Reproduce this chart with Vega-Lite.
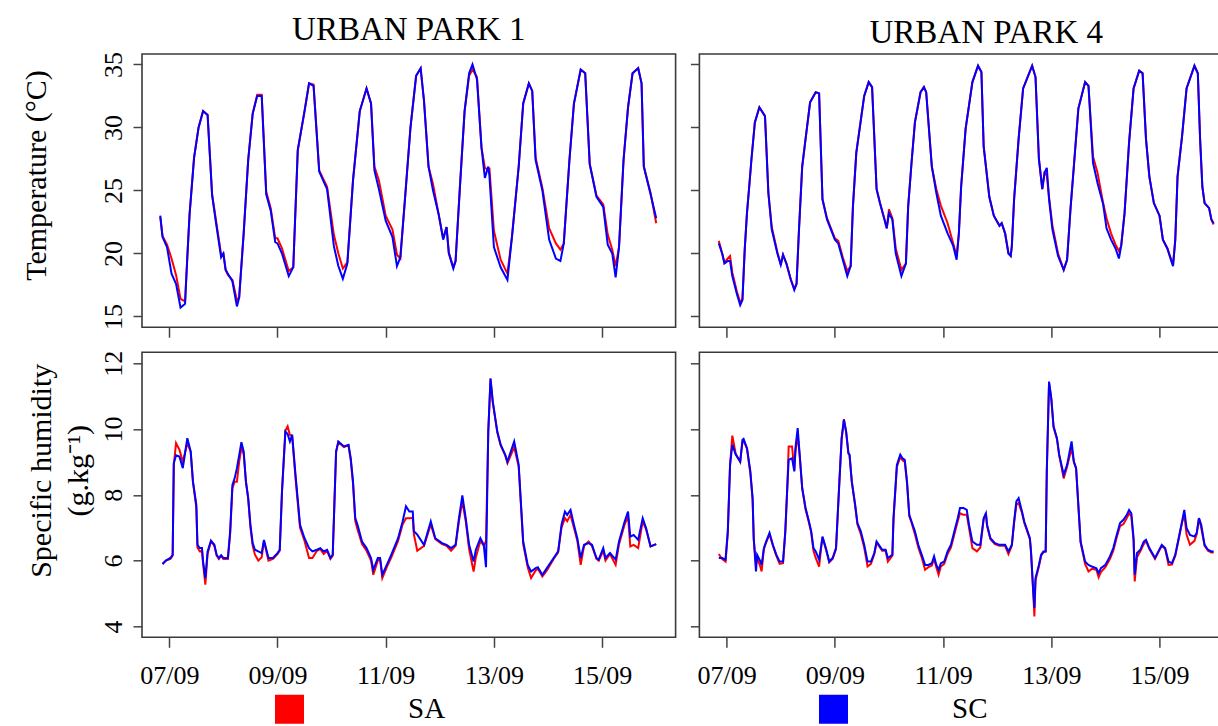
{
  "$schema": "https://vega.github.io/schema/vega-lite/v6.json",
  "background": "white",
  "padding": {"left": 20, "top": 13, "right": 0, "bottom": 0},
  "config": {
    "font": "Liberation Serif",
    "view": {"stroke": "#3a3a3a", "strokeWidth": 1.6},
    "axis": {"grid": false, "domain": false, "tickColor": "#444444", "tickWidth": 1.5, "labelFont": "Liberation Serif", "labelFontSize": 26, "labelColor": "#000000", "titleFont": "Liberation Serif", "titleFontSize": 30, "titleFontWeight": "normal", "titleColor": "#000000"},
    "axisX": {"tickSize": 10, "labelPadding": 15, "labelBaseline": "top"},
    "axisY": {"tickSize": 9, "labelAngle": -90, "labelAlign": "center", "labelBaseline": "alphabetic", "labelPadding": 12},
    "title": {"font": "Liberation Serif", "fontSize": 33, "fontWeight": "normal", "color": "#000000", "baseline": "alphabetic", "offset": 4}
  },
  "datasets": {
    "t1": [
      {"t":"06/09 20:00","SA":22.9,"SC":23.0},{"t":"06/09 21:00","SA":21.4,"SC":21.3},{"t":"06/09 23:00","SA":20.7,"SC":20.5},
      {"t":"07/09 01:00","SA":19.6,"SC":18.4},{"t":"07/09 03:00","SA":18.3,"SC":17.6},{"t":"07/09 05:00","SA":16.4,"SC":15.7},
      {"t":"07/09 07:00","SA":16.2,"SC":16.0},{"t":"07/09 08:00","SA":19.7,"SC":19.7},{"t":"07/09 09:00","SA":23.1,"SC":23.1},
      {"t":"07/09 11:00","SA":27.6,"SC":27.6},{"t":"07/09 13:00","SA":30.0,"SC":30.0},{"t":"07/09 15:00","SA":31.3,"SC":31.3},
      {"t":"07/09 17:00","SA":31.0,"SC":31.0},{"t":"07/09 19:00","SA":24.7,"SC":24.6},{"t":"07/09 21:00","SA":22.3,"SC":22.1},
      {"t":"07/09 23:00","SA":19.9,"SC":19.7},{"t":"08/09 00:00","SA":20.0,"SC":20.0},{"t":"08/09 01:00","SA":18.7,"SC":18.7},
      {"t":"08/09 02:00","SA":18.3,"SC":18.4},{"t":"08/09 04:00","SA":17.9,"SC":17.8},{"t":"08/09 06:00","SA":16.3,"SC":15.8},
      {"t":"08/09 07:00","SA":16.5,"SC":16.5},{"t":"08/09 09:00","SA":21.6,"SC":21.6},{"t":"08/09 11:00","SA":27.4,"SC":27.4},
      {"t":"08/09 13:00","SA":31.1,"SC":31.1},{"t":"08/09 15:00","SA":32.6,"SC":32.5},{"t":"08/09 17:00","SA":32.6,"SC":32.5},
      {"t":"08/09 19:00","SA":24.9,"SC":24.7},{"t":"08/09 21:00","SA":23.6,"SC":23.4},{"t":"08/09 23:00","SA":21.2,"SC":20.9},
      {"t":"09/09 00:00","SA":21.2,"SC":20.8},{"t":"09/09 02:00","SA":20.4,"SC":20.0},{"t":"09/09 05:00","SA":18.6,"SC":18.2},
      {"t":"09/09 07:00","SA":18.9,"SC":18.9},{"t":"09/09 09:00","SA":28.2,"SC":28.2},{"t":"09/09 12:00","SA":31.3,"SC":31.3},
      {"t":"09/09 14:00","SA":33.5,"SC":33.5},{"t":"09/09 16:00","SA":33.4,"SC":33.3},{"t":"09/09 18:30","SA":26.6,"SC":26.5},
      {"t":"09/09 22:00","SA":25.3,"SC":25.1},{"t":"10/09 01:00","SA":21.5,"SC":20.6},{"t":"10/09 03:00","SA":20.0,"SC":19.0},
      {"t":"10/09 05:00","SA":18.8,"SC":18.0},{"t":"10/09 07:00","SA":19.3,"SC":19.2},{"t":"10/09 09:30","SA":25.8,"SC":25.8},
      {"t":"10/09 12:30","SA":31.3,"SC":31.3},{"t":"10/09 15:30","SA":33.1,"SC":33.1},{"t":"10/09 17:30","SA":31.9,"SC":31.9},
      {"t":"10/09 19:00","SA":26.9,"SC":26.6},{"t":"10/09 21:00","SA":25.8,"SC":25.1},{"t":"11/09 00:00","SA":23.0,"SC":22.6},
      {"t":"11/09 03:00","SA":21.9,"SC":21.3},{"t":"11/09 05:00","SA":19.9,"SC":19.0},{"t":"11/09 06:30","SA":19.6,"SC":19.7},
      {"t":"11/09 08:30","SA":24.2,"SC":24.2},{"t":"11/09 11:00","SA":30.0,"SC":30.0},{"t":"11/09 13:30","SA":34.1,"SC":34.1},
      {"t":"11/09 15:30","SA":34.7,"SC":34.7},{"t":"11/09 17:00","SA":32.1,"SC":32.1},{"t":"11/09 19:00","SA":26.9,"SC":26.9},
      {"t":"11/09 21:00","SA":25.5,"SC":25.0},{"t":"11/09 23:30","SA":23.1,"SC":23.1},{"t":"12/09 01:30","SA":21.2,"SC":21.1},
      {"t":"12/09 03:00","SA":22.1,"SC":22.1},{"t":"12/09 04:00","SA":20.1,"SC":20.0},{"t":"12/09 06:00","SA":18.9,"SC":18.8},
      {"t":"12/09 07:00","SA":19.4,"SC":19.4},{"t":"12/09 09:00","SA":25.5,"SC":25.5},{"t":"12/09 11:00","SA":31.3,"SC":31.3},
      {"t":"12/09 13:00","SA":34.1,"SC":34.3},{"t":"12/09 14:30","SA":34.6,"SC":35.0},{"t":"12/09 16:30","SA":34.0,"SC":33.8},
      {"t":"12/09 18:30","SA":28.4,"SC":28.4},{"t":"12/09 20:00","SA":26.8,"SC":26.0},{"t":"12/09 21:30","SA":26.6,"SC":26.9},
      {"t":"12/09 22:00","SA":26.8,"SC":26.2},{"t":"13/09 00:00","SA":21.8,"SC":20.5},{"t":"13/09 03:00","SA":19.5,"SC":18.9},
      {"t":"13/09 06:00","SA":18.4,"SC":17.9},{"t":"13/09 08:00","SA":21.3,"SC":21.3},{"t":"13/09 11:00","SA":26.9,"SC":26.9},
      {"t":"13/09 13:00","SA":31.9,"SC":31.9},{"t":"13/09 15:30","SA":33.5,"SC":33.5},{"t":"13/09 17:00","SA":32.9,"SC":32.9},
      {"t":"13/09 18:30","SA":27.6,"SC":27.4},{"t":"13/09 21:30","SA":25.2,"SC":25.0},{"t":"14/09 00:30","SA":22.0,"SC":21.1},
      {"t":"14/09 03:30","SA":20.8,"SC":19.6},{"t":"14/09 05:30","SA":20.3,"SC":19.4},{"t":"14/09 07:00","SA":20.8,"SC":20.8},
      {"t":"14/09 09:30","SA":27.4,"SC":27.4},{"t":"14/09 11:30","SA":31.9,"SC":31.9},{"t":"14/09 14:30","SA":34.6,"SC":34.6},
      {"t":"14/09 16:30","SA":34.3,"SC":34.3},{"t":"14/09 18:30","SA":27.1,"SC":27.1},{"t":"14/09 21:30","SA":24.6,"SC":24.5},
      {"t":"15/09 00:30","SA":23.9,"SC":23.7},{"t":"15/09 02:30","SA":21.5,"SC":20.7},{"t":"15/09 04:30","SA":20.3,"SC":20.0},
      {"t":"15/09 06:00","SA":19.0,"SC":18.1},{"t":"15/09 07:30","SA":20.5,"SC":20.5},{"t":"15/09 09:30","SA":27.4,"SC":27.4},
      {"t":"15/09 11:30","SA":31.6,"SC":31.6},{"t":"15/09 13:30","SA":34.3,"SC":34.3},{"t":"15/09 16:00","SA":34.7,"SC":34.7},
      {"t":"15/09 17:30","SA":33.5,"SC":33.5},{"t":"15/09 18:30","SA":26.9,"SC":26.9},{"t":"15/09 21:30","SA":24.8,"SC":24.7},
      {"t":"16/09 00:00","SA":22.4,"SC":22.8}
    ],
    "t4": [
      {"t":"06/09 20:30","SA":21.0,"SC":20.8},{"t":"06/09 22:00","SA":20.0,"SC":20.0},{"t":"06/09 23:00","SA":19.3,"SC":19.2},
      {"t":"07/09 00:30","SA":19.6,"SC":19.4},{"t":"07/09 01:30","SA":19.8,"SC":19.4},{"t":"07/09 02:30","SA":18.5,"SC":18.2},
      {"t":"07/09 04:30","SA":17.0,"SC":16.8},{"t":"07/09 06:00","SA":16.1,"SC":15.9},{"t":"07/09 07:00","SA":16.4,"SC":16.3},
      {"t":"07/09 08:00","SA":20.3,"SC":20.3},{"t":"07/09 09:00","SA":23.2,"SC":23.2},{"t":"07/09 10:00","SA":25.3,"SC":25.3},
      {"t":"07/09 11:00","SA":27.5,"SC":27.5},{"t":"07/09 12:30","SA":30.4,"SC":30.4},{"t":"07/09 14:30","SA":31.6,"SC":31.6},
      {"t":"07/09 17:00","SA":30.9,"SC":30.9},{"t":"07/09 18:30","SA":24.8,"SC":24.8},{"t":"07/09 20:00","SA":22.1,"SC":21.9},
      {"t":"07/09 22:30","SA":20.1,"SC":20.0},{"t":"08/09 00:00","SA":19.1,"SC":19.1},{"t":"08/09 01:00","SA":19.9,"SC":19.9},
      {"t":"08/09 02:30","SA":19.2,"SC":19.2},{"t":"08/09 04:30","SA":17.9,"SC":17.9},{"t":"08/09 06:00","SA":17.2,"SC":17.1},
      {"t":"08/09 07:00","SA":17.6,"SC":17.6},{"t":"08/09 08:00","SA":21.6,"SC":21.6},{"t":"08/09 09:30","SA":26.9,"SC":26.9},
      {"t":"08/09 11:00","SA":29.1,"SC":29.1},{"t":"08/09 13:00","SA":32.0,"SC":32.0},{"t":"08/09 15:30","SA":32.8,"SC":32.8},
      {"t":"08/09 17:00","SA":32.7,"SC":32.7},{"t":"08/09 18:30","SA":24.3,"SC":24.3},{"t":"08/09 20:30","SA":22.8,"SC":22.7},
      {"t":"09/09 00:00","SA":21.2,"SC":21.1},{"t":"09/09 01:30","SA":21.0,"SC":20.8},{"t":"09/09 03:30","SA":19.7,"SC":19.5},
      {"t":"09/09 05:30","SA":18.6,"SC":18.2},{"t":"09/09 07:00","SA":19.0,"SC":19.0},{"t":"09/09 08:00","SA":23.7,"SC":23.7},
      {"t":"09/09 09:30","SA":28.0,"SC":28.0},{"t":"09/09 13:00","SA":32.5,"SC":32.5},{"t":"09/09 15:00","SA":33.6,"SC":33.6},
      {"t":"09/09 16:30","SA":33.2,"SC":33.2},{"t":"09/09 18:30","SA":25.1,"SC":25.1},{"t":"09/09 20:00","SA":24.0,"SC":24.0},
      {"t":"09/09 22:00","SA":22.7,"SC":22.7},{"t":"09/09 23:00","SA":22.0,"SC":22.0},{"t":"10/09 00:00","SA":23.5,"SC":23.2},
      {"t":"10/09 01:30","SA":22.8,"SC":22.7},{"t":"10/09 03:00","SA":20.4,"SC":20.0},{"t":"10/09 05:30","SA":18.7,"SC":18.2},
      {"t":"10/09 07:30","SA":19.2,"SC":19.2},{"t":"10/09 08:30","SA":23.7,"SC":23.7},{"t":"10/09 10:00","SA":27.2,"SC":27.2},
      {"t":"10/09 11:30","SA":30.4,"SC":30.4},{"t":"10/09 14:00","SA":32.8,"SC":32.8},{"t":"10/09 15:30","SA":33.2,"SC":33.2},
      {"t":"10/09 16:30","SA":32.8,"SC":32.8},{"t":"10/09 19:00","SA":26.9,"SC":26.9},{"t":"10/09 21:00","SA":25.1,"SC":24.8},
      {"t":"10/09 23:00","SA":23.8,"SC":23.0},{"t":"11/09 02:00","SA":22.4,"SC":21.6},{"t":"11/09 04:30","SA":20.8,"SC":20.6},
      {"t":"11/09 06:00","SA":19.8,"SC":19.5},{"t":"11/09 07:00","SA":21.6,"SC":21.6},{"t":"11/09 08:00","SA":25.3,"SC":25.3},
      {"t":"11/09 10:00","SA":29.9,"SC":29.9},{"t":"11/09 13:00","SA":33.6,"SC":33.6},{"t":"11/09 15:30","SA":34.9,"SC":34.9},
      {"t":"11/09 17:00","SA":34.4,"SC":34.4},{"t":"11/09 18:00","SA":28.5,"SC":28.5},{"t":"11/09 19:30","SA":26.1,"SC":26.1},
      {"t":"11/09 20:30","SA":24.5,"SC":24.5},{"t":"11/09 22:30","SA":23.0,"SC":23.0},{"t":"12/09 01:00","SA":22.2,"SC":22.2},
      {"t":"12/09 02:00","SA":22.4,"SC":22.4},{"t":"12/09 03:30","SA":21.6,"SC":21.6},{"t":"12/09 05:00","SA":20.0,"SC":20.0},
      {"t":"12/09 06:00","SA":19.8,"SC":19.8},{"t":"12/09 06:30","SA":20.6,"SC":20.6},{"t":"12/09 07:30","SA":24.3,"SC":24.3},
      {"t":"12/09 09:30","SA":29.1,"SC":29.1},{"t":"12/09 11:30","SA":33.1,"SC":33.1},{"t":"12/09 13:30","SA":34.0,"SC":34.0},
      {"t":"12/09 15:30","SA":34.9,"SC":34.9},{"t":"12/09 17:00","SA":34.0,"SC":34.0},{"t":"12/09 18:30","SA":27.5,"SC":27.5},
      {"t":"12/09 20:00","SA":25.1,"SC":25.1},{"t":"12/09 21:00","SA":26.4,"SC":26.4},{"t":"12/09 22:00","SA":26.2,"SC":26.8},
      {"t":"12/09 23:00","SA":24.5,"SC":24.3},{"t":"13/09 00:30","SA":22.2,"SC":21.9},{"t":"13/09 03:00","SA":20.0,"SC":19.8},
      {"t":"13/09 05:30","SA":18.7,"SC":18.7},{"t":"13/09 07:00","SA":19.5,"SC":19.5},{"t":"13/09 08:30","SA":23.5,"SC":23.5},
      {"t":"13/09 10:00","SA":26.9,"SC":26.9},{"t":"13/09 12:00","SA":31.5,"SC":31.5},{"t":"13/09 15:00","SA":33.6,"SC":33.6},
      {"t":"13/09 16:30","SA":33.3,"SC":33.3},{"t":"13/09 18:30","SA":27.7,"SC":27.2},{"t":"13/09 20:30","SA":26.4,"SC":25.6},
      {"t":"13/09 23:00","SA":24.0,"SC":23.9},{"t":"14/09 00:30","SA":22.8,"SC":22.0},{"t":"14/09 02:30","SA":21.6,"SC":21.1},
      {"t":"14/09 04:30","SA":20.7,"SC":20.4},{"t":"14/09 06:00","SA":20.2,"SC":19.6},{"t":"14/09 07:00","SA":20.6,"SC":20.6},
      {"t":"14/09 08:30","SA":23.2,"SC":23.2},{"t":"14/09 10:30","SA":28.8,"SC":28.8},{"t":"14/09 12:30","SA":33.1,"SC":33.1},
      {"t":"14/09 15:00","SA":34.5,"SC":34.5},{"t":"14/09 16:30","SA":34.3,"SC":34.3},{"t":"14/09 18:00","SA":29.1,"SC":29.1},
      {"t":"14/09 19:30","SA":26.1,"SC":26.1},{"t":"14/09 21:30","SA":24.0,"SC":24.0},{"t":"15/09 00:00","SA":23.0,"SC":23.0},
      {"t":"15/09 01:30","SA":21.1,"SC":21.1},{"t":"15/09 03:30","SA":20.4,"SC":20.4},{"t":"15/09 04:30","SA":19.9,"SC":19.8},
      {"t":"15/09 06:00","SA":19.1,"SC":19.0},{"t":"15/09 07:00","SA":21.1,"SC":21.1},{"t":"15/09 08:00","SA":26.1,"SC":26.1},
      {"t":"15/09 10:00","SA":29.3,"SC":29.3},{"t":"15/09 12:00","SA":33.1,"SC":33.1},{"t":"15/09 15:30","SA":34.9,"SC":34.9},
      {"t":"15/09 17:00","SA":34.3,"SC":34.3},{"t":"15/09 18:00","SA":29.1,"SC":29.1},{"t":"15/09 19:00","SA":25.3,"SC":25.3},
      {"t":"15/09 20:00","SA":24.0,"SC":24.0},{"t":"15/09 22:00","SA":23.6,"SC":23.6},{"t":"15/09 23:00","SA":22.7,"SC":22.7},
      {"t":"16/09 00:00","SA":22.3,"SC":22.4}
    ],
    "h1": [
      {"t":"06/09 21:00","SA":5.9,"SC":5.9},{"t":"06/09 22:30","SA":6.0,"SC":6.0},{"t":"07/09 00:30","SA":6.05,"SC":6.08},
      {"t":"07/09 01:30","SA":6.15,"SC":6.18},{"t":"07/09 02:00","SA":8.9,"SC":8.96},{"t":"07/09 03:00","SA":9.57,"SC":9.2},
      {"t":"07/09 04:30","SA":9.37,"SC":9.16},{"t":"07/09 06:00","SA":9.0,"SC":8.81},{"t":"07/09 08:00","SA":9.57,"SC":9.72},
      {"t":"07/09 09:30","SA":9.3,"SC":9.32},{"t":"07/09 10:30","SA":8.4,"SC":8.4},{"t":"07/09 12:00","SA":7.6,"SC":7.7},
      {"t":"07/09 12:30","SA":6.4,"SC":6.48},{"t":"07/09 13:30","SA":6.28,"SC":6.38},{"t":"07/09 14:30","SA":6.3,"SC":6.38},
      {"t":"07/09 15:00","SA":5.9,"SC":5.97},{"t":"07/09 16:00","SA":5.27,"SC":5.47},{"t":"07/09 17:00","SA":6.2,"SC":6.28},
      {"t":"07/09 18:30","SA":6.6,"SC":6.6},{"t":"07/09 20:00","SA":6.45,"SC":6.48},{"t":"07/09 21:00","SA":6.15,"SC":6.18},
      {"t":"07/09 22:00","SA":6.05,"SC":6.08},{"t":"07/09 23:00","SA":6.15,"SC":6.16},{"t":"08/09 00:00","SA":6.05,"SC":6.08},
      {"t":"08/09 02:00","SA":6.05,"SC":6.08},{"t":"08/09 03:00","SA":6.8,"SC":6.89},{"t":"08/09 04:00","SA":8.2,"SC":8.3},
      {"t":"08/09 05:00","SA":8.4,"SC":8.5},{"t":"08/09 06:00","SA":8.4,"SC":8.81},{"t":"08/09 07:00","SA":9.0,"SC":9.2},
      {"t":"08/09 08:00","SA":9.42,"SC":9.6},{"t":"08/09 09:00","SA":9.25,"SC":9.32},{"t":"08/09 10:00","SA":8.4,"SC":8.4},
      {"t":"08/09 11:00","SA":7.9,"SC":7.9},{"t":"08/09 12:00","SA":7.0,"SC":7.09},{"t":"08/09 13:00","SA":6.45,"SC":6.53},
      {"t":"08/09 14:00","SA":6.18,"SC":6.33},{"t":"08/09 15:30","SA":6.0,"SC":6.28},{"t":"08/09 17:00","SA":6.1,"SC":6.23},
      {"t":"08/09 18:00","SA":6.6,"SC":6.63},{"t":"08/09 20:00","SA":6.0,"SC":6.08},{"t":"08/09 22:00","SA":6.05,"SC":6.08},
      {"t":"09/09 00:00","SA":6.2,"SC":6.23},{"t":"09/09 01:00","SA":6.3,"SC":6.33},{"t":"09/09 02:00","SA":8.1,"SC":8.1},
      {"t":"09/09 03:30","SA":9.95,"SC":9.92},{"t":"09/09 04:30","SA":10.08,"SC":9.85},{"t":"09/09 05:30","SA":9.82,"SC":9.62},
      {"t":"09/09 06:30","SA":9.8,"SC":9.82},{"t":"09/09 08:00","SA":8.5,"SC":8.61},{"t":"09/09 10:00","SA":7.0,"SC":7.09},
      {"t":"09/09 12:00","SA":6.6,"SC":6.68},{"t":"09/09 14:00","SA":6.08,"SC":6.38},{"t":"09/09 15:30","SA":6.08,"SC":6.28},
      {"t":"09/09 17:30","SA":6.3,"SC":6.33},{"t":"09/09 19:00","SA":6.35,"SC":6.38},{"t":"09/09 20:30","SA":6.2,"SC":6.28},
      {"t":"09/09 22:00","SA":6.3,"SC":6.33},{"t":"09/09 23:30","SA":6.05,"SC":6.08},{"t":"10/09 00:30","SA":6.15,"SC":6.18},
      {"t":"10/09 02:00","SA":9.3,"SC":9.32},{"t":"10/09 03:00","SA":9.6,"SC":9.62},{"t":"10/09 05:30","SA":9.45,"SC":9.47},
      {"t":"10/09 07:30","SA":9.5,"SC":9.52},{"t":"10/09 08:30","SA":9.05,"SC":9.11},{"t":"10/09 09:30","SA":8.35,"SC":8.4},
      {"t":"10/09 10:30","SA":7.2,"SC":7.29},{"t":"10/09 11:30","SA":6.95,"SC":7.09},{"t":"10/09 13:30","SA":6.5,"SC":6.58},
      {"t":"10/09 15:30","SA":6.3,"SC":6.38},{"t":"10/09 17:30","SA":6.0,"SC":6.08},{"t":"10/09 18:30","SA":5.57,"SC":5.72},
      {"t":"10/09 20:30","SA":6.0,"SC":6.08},{"t":"10/09 21:30","SA":6.05,"SC":6.08},{"t":"10/09 22:30","SA":5.47,"SC":5.57},
      {"t":"11/09 00:30","SA":5.8,"SC":5.87},{"t":"11/09 02:30","SA":6.1,"SC":6.18},{"t":"11/09 05:30","SA":6.6,"SC":6.68},
      {"t":"11/09 07:30","SA":7.1,"SC":7.19},{"t":"11/09 09:00","SA":7.29,"SC":7.65},{"t":"11/09 10:30","SA":7.29,"SC":7.49},
      {"t":"11/09 12:00","SA":7.3,"SC":7.49},{"t":"11/09 12:30","SA":6.8,"SC":6.89},{"t":"11/09 14:00","SA":6.3,"SC":6.79},
      {"t":"11/09 17:00","SA":6.45,"SC":6.48},{"t":"11/09 20:00","SA":7.1,"SC":7.19},{"t":"11/09 22:00","SA":6.65,"SC":6.68},
      {"t":"12/09 01:00","SA":6.5,"SC":6.53},{"t":"12/09 03:00","SA":6.45,"SC":6.48},{"t":"12/09 05:00","SA":6.3,"SC":6.38},
      {"t":"12/09 07:00","SA":6.45,"SC":6.48},{"t":"12/09 08:30","SA":7.2,"SC":7.29},{"t":"12/09 10:00","SA":7.8,"SC":7.98},
      {"t":"12/09 11:30","SA":7.2,"SC":7.29},{"t":"12/09 13:00","SA":6.35,"SC":6.48},{"t":"12/09 15:00","SA":5.67,"SC":5.97},
      {"t":"12/09 16:00","SA":6.1,"SC":6.33},{"t":"12/09 18:00","SA":6.6,"SC":6.68},{"t":"12/09 19:30","SA":6.45,"SC":6.48},
      {"t":"12/09 20:30","SA":6.6,"SC":5.8},{"t":"12/09 21:30","SA":9.9,"SC":9.92},{"t":"12/09 22:30","SA":11.5,"SC":11.54},
      {"t":"12/09 23:30","SA":10.8,"SC":10.84},{"t":"13/09 01:30","SA":9.9,"SC":9.92},{"t":"13/09 03:00","SA":9.5,"SC":9.52},
      {"t":"13/09 05:00","SA":9.2,"SC":9.22},{"t":"13/09 06:00","SA":8.96,"SC":9.01},{"t":"13/09 09:00","SA":9.45,"SC":9.62},
      {"t":"13/09 11:00","SA":8.85,"SC":8.91},{"t":"13/09 13:00","SA":6.5,"SC":6.58},{"t":"13/09 15:00","SA":5.8,"SC":5.87},
      {"t":"13/09 16:30","SA":5.47,"SC":5.67},{"t":"13/09 18:30","SA":5.7,"SC":5.77},{"t":"13/09 19:30","SA":5.75,"SC":5.8},
      {"t":"13/09 21:30","SA":5.52,"SC":5.57},{"t":"13/09 23:30","SA":5.7,"SC":5.77},{"t":"14/09 02:30","SA":6.05,"SC":6.08},
      {"t":"14/09 04:30","SA":6.25,"SC":6.28},{"t":"14/09 06:00","SA":7.0,"SC":7.09},{"t":"14/09 07:30","SA":7.29,"SC":7.49},
      {"t":"14/09 08:30","SA":7.2,"SC":7.39},{"t":"14/09 10:00","SA":7.39,"SC":7.54},{"t":"14/09 11:30","SA":7.0,"SC":7.09},
      {"t":"14/09 13:00","SA":6.6,"SC":6.68},{"t":"14/09 14:30","SA":5.87,"SC":6.08},{"t":"14/09 16:00","SA":6.45,"SC":6.48},
      {"t":"14/09 18:00","SA":6.58,"SC":6.53},{"t":"14/09 19:30","SA":6.45,"SC":6.48},{"t":"14/09 21:30","SA":6.05,"SC":6.08},
      {"t":"14/09 22:30","SA":6.0,"SC":6.03},{"t":"15/09 00:30","SA":6.3,"SC":6.38},{"t":"15/09 01:30","SA":6.0,"SC":6.08},
      {"t":"15/09 03:30","SA":6.2,"SC":6.23},{"t":"15/09 06:00","SA":5.87,"SC":6.03},{"t":"15/09 07:30","SA":6.5,"SC":6.58},
      {"t":"15/09 10:00","SA":7.1,"SC":7.19},{"t":"15/09 11:30","SA":7.34,"SC":7.49},{"t":"15/09 12:30","SA":6.43,"SC":6.73},
      {"t":"15/09 14:00","SA":6.48,"SC":6.78},{"t":"15/09 16:00","SA":6.38,"SC":6.63},{"t":"15/09 18:00","SA":7.19,"SC":7.29},
      {"t":"15/09 19:30","SA":6.95,"SC":6.99},{"t":"15/09 21:30","SA":6.43,"SC":6.43},{"t":"16/09 00:00","SA":6.5,"SC":6.5}
    ],
    "h4": [
      {"t":"06/09 20:30","SA":6.2,"SC":6.08},{"t":"06/09 22:00","SA":6.05,"SC":6.08},{"t":"06/09 23:30","SA":5.97,"SC":6.03},
      {"t":"07/09 00:30","SA":6.85,"SC":6.89},{"t":"07/09 01:30","SA":8.9,"SC":8.91},{"t":"07/09 02:30","SA":9.8,"SC":9.52},
      {"t":"07/09 04:00","SA":9.25,"SC":9.22},{"t":"07/09 06:00","SA":9.0,"SC":9.01},{"t":"07/09 07:00","SA":9.6,"SC":9.67},
      {"t":"07/09 07:30","SA":9.65,"SC":9.7},{"t":"07/09 09:00","SA":9.4,"SC":9.42},{"t":"07/09 10:30","SA":8.65,"SC":8.71},
      {"t":"07/09 11:30","SA":7.85,"SC":7.9},{"t":"07/09 12:00","SA":6.65,"SC":6.68},{"t":"07/09 13:00","SA":5.87,"SC":5.67},
      {"t":"07/09 13:30","SA":6.1,"SC":6.18},{"t":"07/09 15:00","SA":5.8,"SC":5.97},{"t":"07/09 15:30","SA":5.67,"SC":5.87},
      {"t":"07/09 16:30","SA":6.35,"SC":6.38},{"t":"07/09 17:30","SA":6.55,"SC":6.58},{"t":"07/09 19:00","SA":6.8,"SC":6.84},
      {"t":"07/09 20:30","SA":6.45,"SC":6.48},{"t":"07/09 22:00","SA":6.15,"SC":6.18},{"t":"07/09 23:30","SA":5.9,"SC":5.97},
      {"t":"08/09 01:00","SA":5.92,"SC":5.97},{"t":"08/09 02:00","SA":6.85,"SC":6.89},{"t":"08/09 03:00","SA":8.4,"SC":8.4},
      {"t":"08/09 03:30","SA":9.47,"SC":9.06},{"t":"08/09 05:00","SA":9.47,"SC":9.11},{"t":"08/09 06:00","SA":8.75,"SC":8.71},
      {"t":"08/09 06:30","SA":9.3,"SC":9.42},{"t":"08/09 07:30","SA":9.82,"SC":10.03},{"t":"08/09 08:30","SA":9.1,"SC":9.11},
      {"t":"08/09 09:30","SA":8.2,"SC":8.2},{"t":"08/09 11:00","SA":7.55,"SC":7.6},{"t":"08/09 12:30","SA":7.15,"SC":7.19},
      {"t":"08/09 13:30","SA":6.85,"SC":6.89},{"t":"08/09 14:30","SA":6.3,"SC":6.38},{"t":"08/09 15:30","SA":6.08,"SC":6.28},
      {"t":"08/09 17:00","SA":5.82,"SC":6.03},{"t":"08/09 18:00","SA":6.45,"SC":6.48},{"t":"08/09 18:30","SA":6.7,"SC":6.73},
      {"t":"08/09 20:00","SA":6.35,"SC":6.38},{"t":"08/09 21:30","SA":5.95,"SC":5.97},{"t":"08/09 23:00","SA":6.05,"SC":6.08},
      {"t":"09/09 00:30","SA":6.35,"SC":6.38},{"t":"09/09 02:00","SA":8.4,"SC":8.4},{"t":"09/09 03:00","SA":9.7,"SC":9.72},
      {"t":"09/09 04:00","SA":10.3,"SC":10.28},{"t":"09/09 05:00","SA":9.9,"SC":9.92},{"t":"09/09 06:00","SA":9.25,"SC":9.27},
      {"t":"09/09 06:30","SA":9.2,"SC":9.22},{"t":"09/09 07:30","SA":8.4,"SC":8.4},{"t":"09/09 09:00","SA":7.65,"SC":7.7},
      {"t":"09/09 10:00","SA":7.1,"SC":7.14},{"t":"09/09 11:30","SA":6.8,"SC":6.89},{"t":"09/09 13:00","SA":6.4,"SC":6.48},
      {"t":"09/09 14:30","SA":5.82,"SC":5.97},{"t":"09/09 16:00","SA":5.9,"SC":5.97},{"t":"09/09 17:30","SA":6.2,"SC":6.23},
      {"t":"09/09 18:30","SA":6.55,"SC":6.58},{"t":"09/09 19:30","SA":6.45,"SC":6.48},{"t":"09/09 21:00","SA":6.3,"SC":6.33},
      {"t":"09/09 22:30","SA":6.3,"SC":6.33},{"t":"09/09 23:30","SA":5.97,"SC":6.08},{"t":"10/09 01:30","SA":6.15,"SC":6.18},
      {"t":"10/09 02:00","SA":7.25,"SC":7.29},{"t":"10/09 03:30","SA":8.85,"SC":8.91},{"t":"10/09 05:00","SA":9.15,"SC":9.22},
      {"t":"10/09 06:00","SA":9.05,"SC":9.11},{"t":"10/09 07:00","SA":9.0,"SC":9.06},{"t":"10/09 08:00","SA":8.35,"SC":8.4},
      {"t":"10/09 09:00","SA":7.35,"SC":7.39},{"t":"10/09 10:00","SA":7.15,"SC":7.19},{"t":"10/09 11:30","SA":6.8,"SC":6.89},
      {"t":"10/09 13:00","SA":6.4,"SC":6.48},{"t":"10/09 14:30","SA":6.1,"SC":6.18},{"t":"10/09 16:00","SA":5.72,"SC":5.87},
      {"t":"10/09 17:30","SA":5.8,"SC":5.87},{"t":"10/09 19:00","SA":5.85,"SC":5.92},{"t":"10/09 20:00","SA":6.05,"SC":6.13},
      {"t":"10/09 21:00","SA":5.8,"SC":5.87},{"t":"10/09 22:00","SA":5.57,"SC":5.72},{"t":"10/09 23:00","SA":5.82,"SC":5.92},
      {"t":"11/09 00:30","SA":5.9,"SC":5.97},{"t":"11/09 02:00","SA":6.2,"SC":6.28},{"t":"11/09 03:30","SA":6.4,"SC":6.48},
      {"t":"11/09 05:00","SA":6.8,"SC":6.89},{"t":"11/09 06:30","SA":7.2,"SC":7.29},{"t":"11/09 07:30","SA":7.44,"SC":7.6},
      {"t":"11/09 09:00","SA":7.39,"SC":7.6},{"t":"11/09 10:30","SA":7.39,"SC":7.54},{"t":"11/09 11:30","SA":7.0,"SC":7.09},
      {"t":"11/09 13:00","SA":6.38,"SC":6.58},{"t":"11/09 15:00","SA":6.28,"SC":6.48},{"t":"11/09 16:30","SA":6.4,"SC":6.48},
      {"t":"11/09 18:00","SA":7.25,"SC":7.29},{"t":"11/09 19:00","SA":7.44,"SC":7.44},{"t":"11/09 19:30","SA":7.05,"SC":7.09},
      {"t":"11/09 21:00","SA":6.65,"SC":6.68},{"t":"11/09 23:00","SA":6.5,"SC":6.53},{"t":"12/09 01:00","SA":6.45,"SC":6.48},
      {"t":"12/09 03:30","SA":6.45,"SC":6.48},{"t":"12/09 05:00","SA":6.2,"SC":6.28},{"t":"12/09 06:30","SA":6.45,"SC":6.48},
      {"t":"12/09 07:30","SA":7.15,"SC":7.19},{"t":"12/09 08:30","SA":7.7,"SC":7.8},{"t":"12/09 09:30","SA":7.75,"SC":7.9},
      {"t":"12/09 11:00","SA":7.45,"SC":7.49},{"t":"12/09 12:00","SA":7.15,"SC":7.19},{"t":"12/09 13:00","SA":6.95,"SC":6.99},
      {"t":"12/09 14:30","SA":6.65,"SC":6.68},{"t":"12/09 15:00","SA":6.25,"SC":6.28},{"t":"12/09 16:00","SA":5.0,"SC":5.06},
      {"t":"12/09 16:30","SA":4.3,"SC":4.56},{"t":"12/09 17:00","SA":5.4,"SC":5.47},{"t":"12/09 18:30","SA":5.82,"SC":5.87},
      {"t":"12/09 19:30","SA":6.15,"SC":6.18},{"t":"12/09 20:30","SA":6.25,"SC":6.28},{"t":"12/09 21:30","SA":6.28,"SC":6.28},
      {"t":"12/09 22:00","SA":8.7,"SC":8.71},{"t":"12/09 23:00","SA":11.4,"SC":11.44},{"t":"13/09 00:00","SA":10.9,"SC":10.94},
      {"t":"13/09 01:00","SA":10.05,"SC":10.08},{"t":"13/09 02:30","SA":9.7,"SC":9.72},{"t":"13/09 03:30","SA":9.2,"SC":9.22},
      {"t":"13/09 05:30","SA":8.5,"SC":8.61},{"t":"13/09 07:00","SA":8.85,"SC":8.91},{"t":"13/09 09:00","SA":9.42,"SC":9.62},
      {"t":"13/09 10:00","SA":9.0,"SC":9.01},{"t":"13/09 11:00","SA":8.8,"SC":8.81},{"t":"13/09 12:00","SA":7.65,"SC":7.7},
      {"t":"13/09 13:00","SA":6.55,"SC":6.58},{"t":"13/09 15:00","SA":5.9,"SC":5.97},{"t":"13/09 16:30","SA":5.67,"SC":5.87},
      {"t":"13/09 18:00","SA":5.75,"SC":5.82},{"t":"13/09 20:00","SA":5.72,"SC":5.77},{"t":"13/09 21:00","SA":5.49,"SC":5.62},
      {"t":"13/09 22:00","SA":5.65,"SC":5.77},{"t":"14/09 00:00","SA":5.8,"SC":5.87},{"t":"14/09 02:00","SA":6.05,"SC":6.13},
      {"t":"14/09 03:30","SA":6.3,"SC":6.38},{"t":"14/09 05:00","SA":6.7,"SC":6.78},{"t":"14/09 06:30","SA":7.05,"SC":7.14},
      {"t":"14/09 08:00","SA":7.11,"SC":7.24},{"t":"14/09 09:30","SA":7.29,"SC":7.39},{"t":"14/09 10:30","SA":7.44,"SC":7.54},
      {"t":"14/09 11:30","SA":7.35,"SC":7.44},{"t":"14/09 12:30","SA":6.6,"SC":6.68},{"t":"14/09 13:00","SA":5.37,"SC":5.57},
      {"t":"14/09 14:00","SA":6.1,"SC":6.23},{"t":"14/09 15:30","SA":6.28,"SC":6.33},{"t":"14/09 17:00","SA":6.5,"SC":6.58},
      {"t":"14/09 18:00","SA":6.6,"SC":6.63},{"t":"14/09 19:30","SA":6.35,"SC":6.38},{"t":"14/09 22:00","SA":6.05,"SC":6.08},
      {"t":"14/09 23:30","SA":6.25,"SC":6.28},{"t":"15/09 01:00","SA":6.45,"SC":6.48},{"t":"15/09 02:30","SA":6.35,"SC":6.38},
      {"t":"15/09 04:00","SA":5.87,"SC":5.97},{"t":"15/09 05:30","SA":5.88,"SC":5.92},{"t":"15/09 07:00","SA":6.15,"SC":6.18},
      {"t":"15/09 08:30","SA":6.65,"SC":6.68},{"t":"15/09 10:00","SA":7.15,"SC":7.19},{"t":"15/09 11:00","SA":7.39,"SC":7.54},
      {"t":"15/09 12:00","SA":6.79,"SC":6.99},{"t":"15/09 13:30","SA":6.48,"SC":6.78},{"t":"15/09 15:30","SA":6.6,"SC":6.73},
      {"t":"15/09 16:30","SA":6.8,"SC":6.84},{"t":"15/09 17:30","SA":7.29,"SC":7.29},{"t":"15/09 18:30","SA":7.0,"SC":7.09},
      {"t":"15/09 20:00","SA":6.45,"SC":6.48},{"t":"15/09 21:30","SA":6.3,"SC":6.33},{"t":"15/09 23:00","SA":6.25,"SC":6.28},
      {"t":"16/09 00:00","SA":6.25,"SC":6.28}
    ]
  },
  "columns": 2,
  "bounds": "flush",
  "spacing": {"row": 24.3, "column": 23.4},
  "resolve": {"scale": {"color": "shared"}},
  "concat": [
    {
      "width": 533.6, "height": 273.2,
      "title": {"text": "URBAN PARK 1"},
      "data": {"name": "t1", "format": {"parse": {"t": "date:'%d/%m %H:%M'"}}},
      "transform": [{"fold": ["SA", "SC"], "as": ["series", "value"]}],
      "mark": {"type": "line", "strokeWidth": 2, "clip": true},
      "encoding": {
        "x": {"field": "t", "type": "temporal", "scale": {"domain": [{"year":1900,"month":9,"date":6,"hours":11,"minutes":54}, {"year":1900,"month":9,"date":16,"hours":8,"minutes":36}]},
              "axis": {"values": [{"year":1900,"month":9,"date":7},{"year":1900,"month":9,"date":9},{"year":1900,"month":9,"date":11},{"year":1900,"month":9,"date":13},{"year":1900,"month":9,"date":15}], "labels": false, "title": null}},
        "y": {"field": "value", "type": "quantitative", "scale": {"domain": [14.15, 35.83], "nice": false, "zero": false},
              "axis": {"values": [15, 20, 25, 30, 35], "title": "Temperature (°C)", "titleAngle": -90, "titleX": -105.7, "titleY": 121, "titleAlign": "center", "titleBaseline": "middle"}},
        "color": {"field": "series", "type": "nominal", "scale": {"domain": ["SA", "SC"], "range": ["#ff0000", "#0000ff"]},
                  "legend": {"orient": "none", "legendX": 133, "legendY": 640.5, "direction": "horizontal", "title": null, "symbolType": "square", "symbolSize": 841, "symbolStrokeWidth": 0, "labelFont": "Liberation Serif", "labelFontSize": 29, "labelColor": "#000000", "labelOffset": 104, "columnPadding": 373, "padding": 0,
                             "encode": {"symbols": {"update": {"fill": {"scale": "color", "field": "value"}, "fillOpacity": {"value": 1}, "stroke": {"value": "transparent"}}}}}}
      }
    },
    {
      "width": 533.6, "height": 273.2,
      "title": {"text": "URBAN PARK 4", "dx": 20},
      "data": {"name": "t4", "format": {"parse": {"t": "date:'%d/%m %H:%M'"}}},
      "transform": [{"fold": ["SA", "SC"], "as": ["series", "value"]}],
      "mark": {"type": "line", "strokeWidth": 2, "clip": true},
      "encoding": {
        "x": {"field": "t", "type": "temporal", "scale": {"domain": [{"year":1900,"month":9,"date":6,"hours":11,"minutes":54}, {"year":1900,"month":9,"date":16,"hours":8,"minutes":36}]},
              "axis": {"values": [{"year":1900,"month":9,"date":7},{"year":1900,"month":9,"date":9},{"year":1900,"month":9,"date":11},{"year":1900,"month":9,"date":13},{"year":1900,"month":9,"date":15}], "labels": false, "title": null}},
        "y": {"field": "value", "type": "quantitative", "scale": {"domain": [14.15, 35.83], "nice": false, "zero": false},
              "axis": {"values": [15, 20, 25, 30, 35], "labels": false, "title": null}},
        "color": {"field": "series", "type": "nominal", "scale": {"domain": ["SA", "SC"], "range": ["#ff0000", "#0000ff"]},
                  "legend": {"orient": "none", "legendX": 133, "legendY": 640.5, "direction": "horizontal", "title": null, "symbolType": "square", "symbolSize": 841, "symbolStrokeWidth": 0, "labelFont": "Liberation Serif", "labelFontSize": 29, "labelColor": "#000000", "labelOffset": 104, "columnPadding": 373, "padding": 0,
                             "encode": {"symbols": {"update": {"fill": {"scale": "color", "field": "value"}, "fillOpacity": {"value": 1}, "stroke": {"value": "transparent"}}}}}}
      }
    },
    {
      "width": 533.6, "height": 285,
      "data": {"name": "h1", "format": {"parse": {"t": "date:'%d/%m %H:%M'"}}},
      "transform": [{"fold": ["SA", "SC"], "as": ["series", "value"]}],
      "mark": {"type": "line", "strokeWidth": 2, "clip": true},
      "encoding": {
        "x": {"field": "t", "type": "temporal", "scale": {"domain": [{"year":1900,"month":9,"date":6,"hours":11,"minutes":54}, {"year":1900,"month":9,"date":16,"hours":8,"minutes":36}]},
              "axis": {"values": [{"year":1900,"month":9,"date":7},{"year":1900,"month":9,"date":9},{"year":1900,"month":9,"date":11},{"year":1900,"month":9,"date":13},{"year":1900,"month":9,"date":15}], "format": "%d/%m", "title": null}},
        "y": {"field": "value", "type": "quantitative", "scale": {"domain": [3.67, 12.33], "nice": false, "zero": false},
              "axis": {"values": [4, 6, 8, 10, 12], "title": ["Specific humidity", "(g.kg⁻¹)"], "titleAngle": -90, "titleX": -100.2, "titleY": 118, "titleAlign": "center", "titleBaseline": "middle", "titleLineHeight": 37}},
        "color": {"field": "series", "type": "nominal", "scale": {"domain": ["SA", "SC"], "range": ["#ff0000", "#0000ff"]},
                  "legend": {"orient": "none", "legendX": 133, "legendY": 640.5, "direction": "horizontal", "title": null, "symbolType": "square", "symbolSize": 841, "symbolStrokeWidth": 0, "labelFont": "Liberation Serif", "labelFontSize": 29, "labelColor": "#000000", "labelOffset": 104, "columnPadding": 373, "padding": 0,
                             "encode": {"symbols": {"update": {"fill": {"scale": "color", "field": "value"}, "fillOpacity": {"value": 1}, "stroke": {"value": "transparent"}}}}}}
      }
    },
    {
      "width": 533.6, "height": 285,
      "data": {"name": "h4", "format": {"parse": {"t": "date:'%d/%m %H:%M'"}}},
      "transform": [{"fold": ["SA", "SC"], "as": ["series", "value"]}],
      "mark": {"type": "line", "strokeWidth": 2, "clip": true},
      "encoding": {
        "x": {"field": "t", "type": "temporal", "scale": {"domain": [{"year":1900,"month":9,"date":6,"hours":11,"minutes":54}, {"year":1900,"month":9,"date":16,"hours":8,"minutes":36}]},
              "axis": {"values": [{"year":1900,"month":9,"date":7},{"year":1900,"month":9,"date":9},{"year":1900,"month":9,"date":11},{"year":1900,"month":9,"date":13},{"year":1900,"month":9,"date":15}], "format": "%d/%m", "title": null}},
        "y": {"field": "value", "type": "quantitative", "scale": {"domain": [3.67, 12.33], "nice": false, "zero": false},
              "axis": {"values": [4, 6, 8, 10, 12], "labels": false, "title": null}},
        "color": {"field": "series", "type": "nominal", "scale": {"domain": ["SA", "SC"], "range": ["#ff0000", "#0000ff"]},
                  "legend": {"orient": "none", "legendX": 133, "legendY": 640.5, "direction": "horizontal", "title": null, "symbolType": "square", "symbolSize": 841, "symbolStrokeWidth": 0, "labelFont": "Liberation Serif", "labelFontSize": 29, "labelColor": "#000000", "labelOffset": 104, "columnPadding": 373, "padding": 0,
                             "encode": {"symbols": {"update": {"fill": {"scale": "color", "field": "value"}, "fillOpacity": {"value": 1}, "stroke": {"value": "transparent"}}}}}}
      }
    }
  ]
}
